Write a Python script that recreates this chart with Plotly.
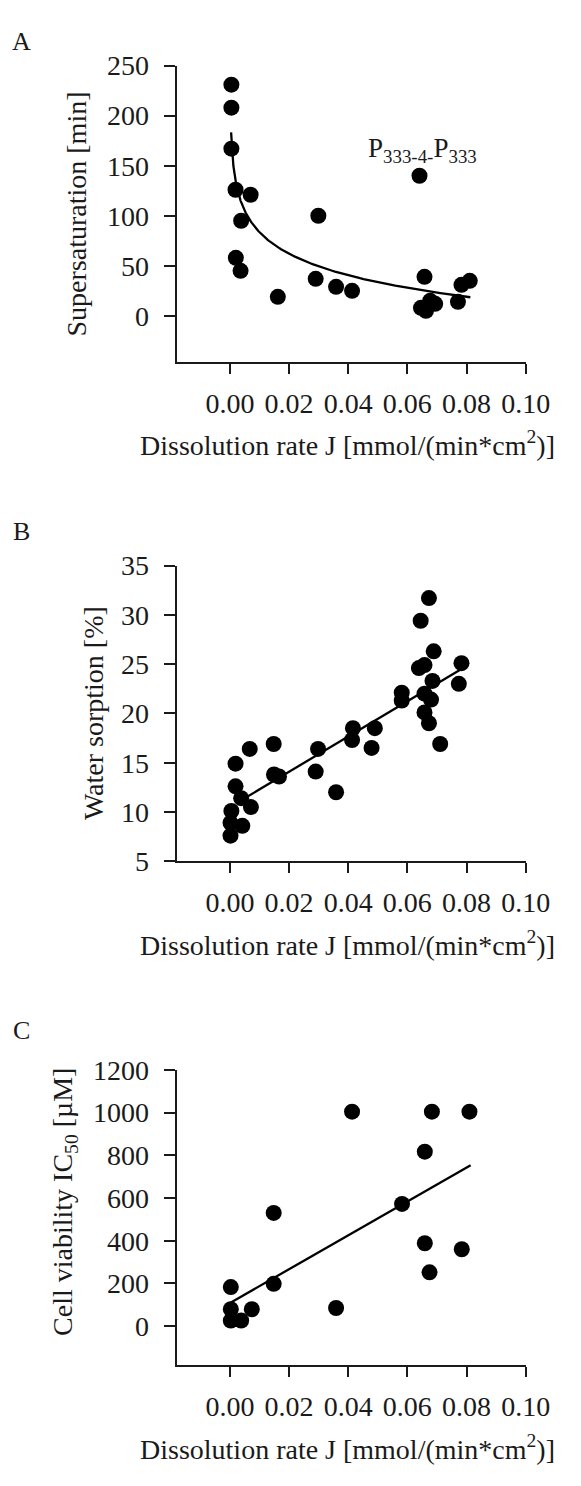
import numpy as np
import plotly.graph_objects as go

# ---------------- data ----------------
# Panel A: supersaturation vs dissolution rate
a_x = [0.0005, 0.0005, 0.0005, 0.0019, 0.0070, 0.0038, 0.0020, 0.0036, 0.0162,
       0.0299, 0.0290, 0.0359, 0.0413, 0.0641, 0.0658, 0.0646, 0.0663, 0.0677,
       0.0694, 0.0771, 0.0783, 0.0811]
a_y = [231, 208, 167, 126, 121, 95, 58, 45, 19, 100, 37, 29, 25, 140, 39, 8, 5,
       15, 12, 14, 31, 35]
# logarithmic fit y = a + b*ln(x)
a_fit_intercept = -59.2
a_fit_slope = -31.0
a_fit_xrange = [0.0004, 0.0813]

# Panel B: water sorption vs dissolution rate
b_x = [0.0002, 0.0002, 0.0005, 0.0042, 0.0019, 0.0019, 0.0038, 0.0071, 0.0067,
       0.0148, 0.0149, 0.0166, 0.0290, 0.0298, 0.0359, 0.0416, 0.0413, 0.0479,
       0.0490, 0.0581, 0.0581, 0.0645, 0.0673, 0.0689, 0.0639, 0.0658, 0.0685,
       0.0658, 0.0680, 0.0658, 0.0673, 0.0711, 0.0783, 0.0774]
b_y = [7.6, 8.9, 10.1, 8.6, 12.6, 14.9, 11.4, 10.5, 16.4, 16.9, 13.8, 13.6, 14.1,
       16.4, 12.0, 18.5, 17.3, 16.5, 18.5, 22.1, 21.3, 29.4, 31.7, 26.3, 24.6,
       24.9, 23.3, 22.0, 21.4, 20.1, 19.0, 16.9, 25.1, 23.0]
b_fit_intercept = 10.5
b_fit_slope = 179.0
b_fit_xrange = [0.003, 0.0783]

# Panel C: cell viability IC50 vs dissolution rate
c_x = [0.0003, 0.0003, 0.0003, 0.0038, 0.0074, 0.0148, 0.0148, 0.0359, 0.0413,
       0.0582, 0.0659, 0.0659, 0.0675, 0.0683, 0.0784, 0.0810]
c_y = [183, 79, 26, 26, 79, 198, 530, 85, 1004, 572, 817, 388, 252, 1004, 360, 1004]
c_fit_intercept = 108.0
c_fit_slope = 7924.0
c_fit_xrange = [0.0002, 0.0814]

x_ticks = [0.00, 0.02, 0.04, 0.06, 0.08, 0.10]
a_yticks = [0, 50, 100, 150, 200, 250]
b_yticks = [5, 10, 15, 20, 25, 30, 35]
c_yticks = [0, 200, 400, 600, 800, 1000, 1200]

# ---------------- layout constants ----------------
W, H = 581, 1486
FONT = "Liberation Serif, Times New Roman, serif"
INK = "#1a1a1a"


def py(p):
    return 1 - p / H


def px(p):
    return p / W


x_dom = [px(184.3), px(548.3)]
panels = [
    dict(top=51.7, bot=354.3),
    dict(top=562.3, bot=864.3),
    dict(top=1077.3, bot=1379.0),
]

fig = go.Figure()

# scatter + fit traces
a_fx = np.geomspace(a_fit_xrange[0], a_fit_xrange[1], 200)
a_fy = a_fit_intercept + a_fit_slope * np.log(a_fx)
b_fx = np.array(b_fit_xrange)
b_fy = b_fit_intercept + b_fit_slope * b_fx
c_fx = np.array(c_fit_xrange)
c_fy = c_fit_intercept + c_fit_slope * c_fx

series = [
    (a_x, a_y, a_fx, a_fy, "x", "y"),
    (b_x, b_y, b_fx, b_fy, "x2", "y2"),
    (c_x, c_y, c_fx, c_fy, "x3", "y3"),
]
for sx, sy, fx, fy, xa, ya in series:
    fig.add_trace(go.Scatter(x=fx, y=fy, mode="lines", xaxis=xa, yaxis=ya,
                             line=dict(color="black", width=2.3), showlegend=False,
                             hoverinfo="skip"))
    fig.add_trace(go.Scatter(x=sx, y=sy, mode="markers", xaxis=xa, yaxis=ya,
                             marker=dict(color="black", size=16, line=dict(width=0)),
                             showlegend=False))

axis_common = dict(showline=True, linecolor=INK, linewidth=2, ticks="outside",
                   tickcolor=INK, tickwidth=2, showgrid=False, zeroline=False,
                   tickfont=dict(family=FONT, size=28, color=INK))

yranges = [[-46, 250], [5, 35], [-183, 1200]]
yticks = [a_yticks, b_yticks, c_yticks]
layout_axes = {}
for i, p in enumerate(panels):
    sfx = "" if i == 0 else str(i + 1)
    layout_axes["xaxis" + sfx] = dict(
        axis_common, domain=x_dom, range=[-0.018, 0.10], tickvals=x_ticks,
        tickformat=".2f", ticklen=10, ticklabelstandoff=5,
        anchor="y" + sfx)
    layout_axes["yaxis" + sfx] = dict(
        axis_common, domain=[py(p["bot"]), py(p["top"])], range=yranges[i],
        tickvals=yticks[i], ticklen=11, ticklabelstandoff=9,
        anchor="x" + sfx)

fig.update_layout(**layout_axes)

annotations = []
tfont = dict(family=FONT, size=28, color=INK)
# panel letters
for letter, yy in [("A", 27), ("B", 528), ("C", 1037)]:
    annotations.append(dict(text=letter, x=px(22), y=py(yy), xref="paper", yref="paper",
                            xanchor="center", yanchor="middle", showarrow=False,
                            font=dict(family=FONT, size=26, color=INK)))
# y titles
for txt, xx, yy in [("Supersaturation [min]", 80, 203),
                    ("Water sorption [%]", 97, 713),
                    ("Cell viability IC<sub>50</sub> [µM]", 68, 1212)]:
    annotations.append(dict(text=txt, x=px(xx), y=py(yy), xref="paper", yref="paper",
                            xanchor="center", yanchor="middle", textangle=-90,
                            showarrow=False, font=tfont))
# x titles
for yy in [438, 948, 1463]:
    annotations.append(dict(text="Dissolution rate J [mmol/(min*cm<sup>2</sup>)]",
                            x=px(362), y=py(yy), xref="paper", yref="paper",
                            xanchor="center", yanchor="middle", showarrow=False,
                            font=tfont))
# outlier label in panel A
annotations.append(dict(text="P<sub>333-4-</sub>P<sub>333</sub>", x=0.065, y=166,
                        xref="x", yref="y", xanchor="center", yanchor="middle",
                        showarrow=False, font=dict(family=FONT, size=27, color=INK)))

fig.update_layout(width=W, height=H, margin=dict(l=0, r=0, t=0, b=0),
                  paper_bgcolor="white", plot_bgcolor="white",
                  annotations=annotations, showlegend=False,
                  font=dict(family=FONT, color=INK))

fig.write_html("out.html")
